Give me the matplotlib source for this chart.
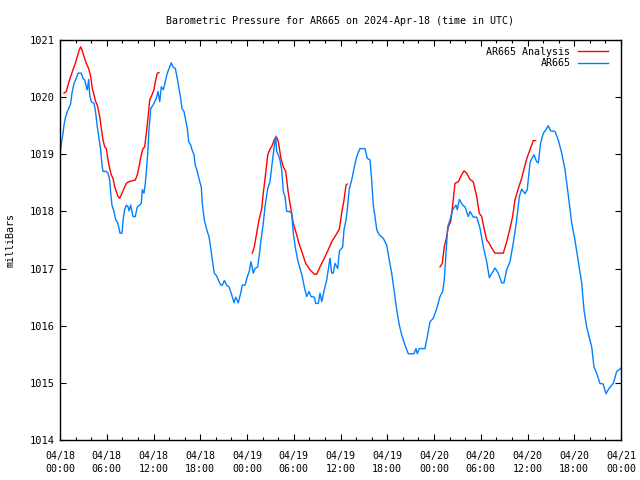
import matplotlib
matplotlib.use("Agg")
import matplotlib.pyplot as plt
import numpy as np

# hours since 2024-04-18 00:00 UTC, pressure in millibars
ar665_hours = [
    0.0, 0.17, 0.39, 0.51, 0.68, 0.94, 1.12, 1.37, 1.54, 1.80, 2.09, 2.31, 2.73, 2.95,
    3.17, 3.38, 3.50, 3.68, 3.81, 4.02, 4.36, 4.53, 4.79, 4.97, 5.22, 5.39, 5.52, 5.94,
    6.16, 6.38, 6.51, 6.67, 6.93, 7.15, 7.35, 7.53, 7.70, 7.96, 8.12, 8.30, 8.51, 8.73,
    8.86, 9.07, 9.24, 9.37, 9.66, 9.92, 10.23, 10.43, 10.56, 10.78, 10.95, 11.13, 11.29,
    11.42, 11.64, 11.94, 12.15, 12.36, 12.58, 12.80, 13.00, 13.26, 13.51, 13.77, 14.08,
    14.28, 14.50, 14.80, 15.05, 15.23, 15.49, 15.66, 15.91, 16.08, 16.34, 16.52, 16.78,
    16.94, 17.20, 17.36, 17.62, 17.93, 18.13, 18.26, 18.52, 18.83, 19.12, 19.38, 19.55,
    19.80, 20.11, 20.41, 20.66, 20.83, 21.09, 21.39, 21.69, 22.04, 22.33, 22.55, 22.88,
    23.19, 23.40, 23.74, 24.04, 24.29, 24.51, 24.81, 25.03, 25.37, 25.58, 25.80, 26.09,
    26.31, 26.66, 26.95, 27.25, 27.50, 27.68, 27.81, 28.02, 28.23, 28.45, 28.66, 28.88,
    29.09, 29.39, 29.74, 29.94, 30.25, 30.51, 30.80, 31.10, 31.35, 31.66, 31.96, 32.21,
    32.64, 32.82, 33.15, 33.37, 33.59, 33.92, 34.23, 34.43, 34.65, 34.87, 35.07, 35.29,
    35.64, 35.85, 36.28, 36.45, 36.71, 36.87, 37.13, 37.44, 37.73, 38.08, 38.50, 39.14,
    39.44, 39.79, 40.00, 40.21, 40.43, 40.65, 40.98, 41.49, 41.93, 42.26, 42.57, 42.87,
    43.21, 43.55, 43.85, 44.28, 44.70, 45.43, 45.69, 45.86, 46.11, 46.84, 47.14, 47.49,
    47.91, 48.35, 48.77, 49.12, 49.32, 49.54, 49.76, 50.05, 50.40, 50.82, 50.99, 51.25,
    51.68, 51.98, 52.40, 52.62, 53.04, 53.48, 53.90, 54.33, 54.76, 55.10, 55.40, 55.83,
    56.25, 56.69, 56.98, 57.33, 57.75, 58.18, 58.61, 58.95, 59.25, 59.68, 59.97, 60.32,
    60.54, 60.83, 61.18, 61.39, 61.69, 62.03, 62.37, 62.67, 62.98, 63.53, 63.95, 64.39,
    64.81, 65.23, 65.67, 66.09, 66.52, 66.95, 67.25, 67.59, 67.93, 68.24, 68.53, 68.88,
    69.30, 69.72, 70.07, 70.50, 71.01, 71.45, 71.96, 72.0,
]
ar665_mb = [
    1018.99, 1019.19, 1019.37, 1019.51, 1019.63, 1019.75, 1019.80, 1019.89, 1020.07,
    1020.24, 1020.33, 1020.42, 1020.42, 1020.33, 1020.30, 1020.18, 1020.13, 1020.31,
    1020.04, 1019.92, 1019.89, 1019.78, 1019.48, 1019.31, 1019.08, 1018.81, 1018.70,
    1018.70, 1018.67, 1018.55, 1018.32, 1018.11, 1018.00, 1017.85, 1017.82, 1017.73,
    1017.62, 1017.62, 1017.88, 1018.03, 1018.11, 1018.08, 1018.01, 1018.11, 1018.00,
    1017.91, 1017.91, 1018.08, 1018.11, 1018.14, 1018.38, 1018.32, 1018.49, 1018.78,
    1019.08, 1019.43, 1019.80, 1019.86, 1019.92, 1019.98, 1020.10, 1019.92, 1020.18,
    1020.13, 1020.27, 1020.42, 1020.53, 1020.60, 1020.53, 1020.50, 1020.33, 1020.18,
    1019.98, 1019.80, 1019.75, 1019.63, 1019.45, 1019.22, 1019.16, 1019.08, 1018.99,
    1018.81, 1018.70, 1018.52, 1018.43, 1018.14, 1017.85, 1017.68, 1017.56, 1017.33,
    1017.15, 1016.92, 1016.87, 1016.77, 1016.71, 1016.71, 1016.79, 1016.71, 1016.68,
    1016.54, 1016.40, 1016.50, 1016.40, 1016.57, 1016.71, 1016.71, 1016.86, 1016.95,
    1017.12, 1016.92, 1017.00, 1017.03, 1017.24, 1017.50, 1017.79, 1018.08, 1018.40,
    1018.52, 1018.87, 1019.13, 1019.32, 1019.05, 1018.99, 1018.90, 1018.73, 1018.35,
    1018.26, 1018.00, 1018.00, 1017.97, 1017.62, 1017.33, 1017.15, 1017.00, 1016.86,
    1016.68, 1016.51, 1016.60, 1016.51, 1016.50, 1016.39, 1016.39, 1016.57, 1016.42,
    1016.63, 1016.80, 1016.98, 1017.18, 1016.92, 1016.92, 1017.09, 1017.00, 1017.30,
    1017.38, 1017.68, 1017.85, 1018.03, 1018.40, 1018.55, 1018.75, 1018.96, 1019.10,
    1019.10, 1018.93, 1018.90, 1018.55, 1018.11, 1017.91, 1017.68, 1017.59, 1017.53,
    1017.41, 1017.15, 1016.92, 1016.63, 1016.28, 1016.01, 1015.84, 1015.66, 1015.51,
    1015.51, 1015.60, 1015.51, 1015.60, 1015.60, 1015.81, 1016.07, 1016.13, 1016.30,
    1016.51, 1016.60, 1016.80, 1017.27, 1017.73, 1017.85, 1018.03, 1018.11, 1018.03,
    1018.21, 1018.11, 1018.08, 1017.91, 1018.00, 1017.90, 1017.90, 1017.71, 1017.38,
    1017.12, 1016.84, 1016.91, 1017.01, 1016.92, 1016.75, 1016.75, 1016.98, 1017.12,
    1017.45, 1017.85, 1018.26, 1018.39, 1018.31, 1018.38, 1018.85, 1018.92, 1018.99,
    1018.87, 1018.85, 1019.20, 1019.37, 1019.43, 1019.50, 1019.41, 1019.40, 1019.25,
    1019.02, 1018.73, 1018.29, 1017.80, 1017.50, 1017.12, 1016.75, 1016.28, 1015.98,
    1015.79, 1015.63, 1015.28, 1015.17, 1014.99, 1014.98, 1014.81, 1014.91, 1014.99,
    1015.20, 1015.25, 1015.26,
]

# analysis comes in three runs, nan marks the gaps
analysis_hours = [
    0.51, 0.81, 1.03, 1.37, 1.67, 1.96, 2.22, 2.48, 2.66, 2.82, 3.08, 3.38, 3.68, 3.94,
    4.15, 4.36, 4.58, 4.79, 5.10, 5.30, 5.52, 5.74, 5.94, 6.16, 6.38, 6.58, 6.80, 7.02,
    7.23, 7.44, 7.66, 7.96, 8.21, 8.51, 8.82, 9.37, 9.66, 9.92, 10.14, 10.43, 10.65,
    10.87, 11.08, 11.29, 11.51, 11.81, 12.06, 12.23, 12.49, 12.71,
    np.nan,
    24.68, 24.94, 25.24, 25.54, 25.89, 26.09, 26.40, 26.66, 26.95, 27.25, 27.50, 27.81,
    28.02, 28.36, 28.66, 28.97, 29.30, 29.65, 29.94, 30.38, 30.67, 31.10, 31.53, 32.09,
    32.64, 32.94, 33.37, 33.92, 34.43, 34.87, 35.29, 35.85, 36.15, 36.45, 36.71, 36.87,
    np.nan,
    48.77, 49.06, 49.32, 49.63, 49.83, 50.14, 50.40, 50.69, 51.12, 51.55, 51.85, 52.19,
    52.62, 53.04, 53.48, 53.81, 54.12, 54.42, 54.76, 55.10, 55.40, 55.83, 56.89, 57.33,
    57.75, 58.09, 58.39, 58.82, 59.25, 59.68, 59.97, 60.32, 60.74, 61.05,
]
analysis_mb = [
    1020.07, 1020.10, 1020.21, 1020.36, 1020.48, 1020.59, 1020.71, 1020.83, 1020.88,
    1020.83, 1020.71, 1020.59, 1020.50, 1020.36, 1020.15, 1020.04, 1019.92, 1019.86,
    1019.66, 1019.45, 1019.25, 1019.13, 1019.10, 1018.90, 1018.75, 1018.64, 1018.58,
    1018.43, 1018.35, 1018.26, 1018.23, 1018.32, 1018.40, 1018.49, 1018.52, 1018.54,
    1018.55, 1018.64, 1018.78, 1018.99, 1019.10, 1019.13, 1019.37, 1019.63, 1019.95,
    1020.04, 1020.13, 1020.27, 1020.42, 1020.43,
    np.nan,
    1017.27, 1017.38, 1017.62, 1017.85, 1018.05, 1018.32, 1018.67, 1018.99, 1019.09,
    1019.16, 1019.26, 1019.30, 1019.22, 1018.93, 1018.78, 1018.70, 1018.32, 1018.03,
    1017.79, 1017.59, 1017.44, 1017.27, 1017.09, 1016.98, 1016.90, 1016.90, 1017.03,
    1017.18, 1017.33, 1017.47, 1017.56, 1017.69, 1017.97, 1018.20, 1018.46, 1018.48,
    np.nan,
    1017.03, 1017.09, 1017.38, 1017.56, 1017.73, 1017.82, 1018.11, 1018.49, 1018.52,
    1018.64, 1018.71, 1018.67, 1018.56, 1018.52, 1018.26, 1017.97, 1017.91, 1017.71,
    1017.50, 1017.44, 1017.36, 1017.27, 1017.27, 1017.47, 1017.70, 1017.91, 1018.20,
    1018.40, 1018.58, 1018.81, 1018.95, 1019.08, 1019.24, 1019.24,
]

tick_hours = list(range(0, 73, 6))
tick_labels = ["04/18\n00:00", "04/18\n06:00", "04/18\n12:00", "04/18\n18:00",
               "04/19\n00:00", "04/19\n06:00", "04/19\n12:00", "04/19\n18:00",
               "04/20\n00:00", "04/20\n06:00", "04/20\n12:00", "04/20\n18:00",
               "04/21\n00:00"]

plt.rcParams['font.family'] = ['DejaVu Sans Mono']

fig = plt.figure(figsize=(6.4, 4.8), dpi=100)
ax = fig.add_axes([60 / 640, 40 / 480, 561 / 640, 400 / 480])

ax.plot(analysis_hours, analysis_mb, color='#ff0000', lw=1.0, label='AR665 Analysis')
ax.plot(ar665_hours, ar665_mb, color='#0080ff', lw=1.0, label='AR665')

ax.set_xlim(0, 72)
ax.set_ylim(1014, 1021)
ax.set_xticks(tick_hours)
ax.set_xticklabels(tick_labels, fontsize=7.2, linespacing=1.35)
ax.set_xticks(np.arange(0, 73, 2), minor=True)
ax.set_yticks(np.arange(1014, 1022, 1))
ax.tick_params(axis='y', labelsize=7.5)
ax.tick_params(which='major', direction='in', length=4.5, width=0.8,
               top=True, right=True, pad=4)
ax.tick_params(axis='x', which='major', pad=8)
ax.tick_params(which='minor', direction='in', length=2.2, width=0.8,
               top=True, right=True)
for s in ax.spines.values():
    s.set_linewidth(1.0)

ax.set_ylabel('milliBars', fontsize=7.2, labelpad=10)
ax.set_title('Barometric Pressure for AR665 on 2024-Apr-18 (time in UTC)',
             fontsize=7.2, pad=11.5)

# markerfirst=False puts the line after the text and right-aligns the rows
ax.legend(loc='upper right', bbox_to_anchor=(0.99, 1.0), frameon=False,
          markerfirst=False, fontsize=7.2, handlelength=3.0, handletextpad=0.8,
          labelspacing=0.15, borderaxespad=0.3, borderpad=0.4)

fig.savefig('out.png', dpi=100)
